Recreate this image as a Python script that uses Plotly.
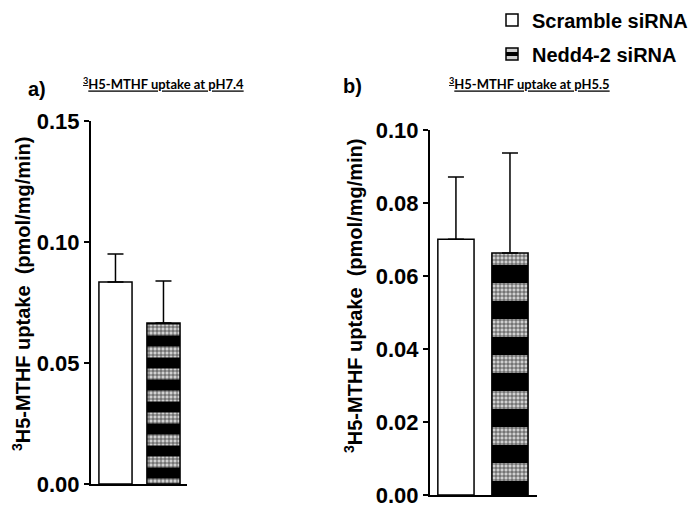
import plotly.graph_objects as go

# ---------------- data ----------------
groups = ["Scramble siRNA", "Nedd4-2 siRNA"]
ph74_mean = [0.0835, 0.0665]
ph74_err = [0.0115, 0.0174]
ph55_mean = [0.0701, 0.0663]
ph55_err = [0.0170, 0.0274]
ph74_ticks = [0.00, 0.05, 0.10, 0.15]
ph55_ticks = [0.00, 0.02, 0.04, 0.06, 0.08, 0.10]
title_a = "<sup>3</sup>H5-MTHF uptake at pH7.4"
title_b = "<sup>3</sup>H5-MTHF uptake at pH5.5"
ytitle = "<sup>3</sup>H5-MTHF uptake\u00a0 (pmol/mg/min)"

FONT = "Liberation Sans, Arial, sans-serif"

def add_panel(fig, means, errs, xa, ya, width, band, show_legend):
    # white bar
    fig.add_trace(go.Bar(
        x=[groups[0]], y=[means[0]], width=width, name=groups[0],
        legendgroup="g0", showlegend=show_legend,
        marker=dict(color="white", line=dict(color="black", width=1.5)),
        error_y=dict(type="data", array=[errs[0]], arrayminus=[0], symmetric=False,
                     color="black", thickness=1.5, width=8),
        xaxis=xa, yaxis=ya))
    # patterned bar (light / dark bands)
    fig.add_trace(go.Bar(
        x=[groups[1]], y=[means[1]], width=width, name=groups[1],
        legendgroup="g1", showlegend=show_legend,
        marker=dict(color="black", line=dict(color="black", width=1.5),
                    pattern=dict(shape="-", fgcolor="#d0d0d0", bgcolor="black",
                                 size=band, solidity=0.5, fillmode="replace")),
        error_y=dict(type="data", array=[errs[1]], arrayminus=[0], symmetric=False,
                     color="black", thickness=1.5, width=8),
        xaxis=xa, yaxis=ya))
    # fine texture overlay
    fig.add_trace(go.Bar(
        x=[groups[1]], y=[means[1]], width=width, showlegend=False, hoverinfo="skip",
        marker=dict(color="rgba(0,0,0,0)", line=dict(width=0),
                    pattern=dict(shape="+", fgcolor="black", size=4,
                                 solidity=0.3, fillmode="overlay", fgopacity=0.8)),
        xaxis=xa, yaxis=ya))

fig = go.Figure()
add_panel(fig, ph74_mean, ph74_err, "x", "y", 0.69, 22, True)
add_panel(fig, ph55_mean, ph55_err, "x2", "y2", 0.67, 36, False)

# the page body has an 8px default margin; work in window pixels
OFF = 8
W, H = 700 - OFF, 508 - OFF
def px(x):
    return (x - OFF) / W
def py(y):
    return 1 - (y - OFF) / H

xcommon = dict(showticklabels=False, ticks="", showline=True, linecolor="black",
               linewidth=2, showgrid=False, zeroline=False, fixedrange=True)
ycommon = dict(showline=True, linecolor="black", linewidth=2, ticks="outside",
               ticklen=5, tickwidth=2, tickcolor="black", showgrid=False,
               zeroline=False, tickformat=".2f", automargin=False,
               tickfont=dict(family=FONT, size=22, color="black", weight="bold"))

fig.update_layout(
    width=W, height=H, autosize=False,
    margin=dict(l=0, r=0, t=0, b=0, autoexpand=False),
    paper_bgcolor="white", plot_bgcolor="white",
    barmode="overlay",
    xaxis=dict(domain=[px(91), px(187)], range=[-0.51, 1.49], anchor="y", **xcommon),
    yaxis=dict(domain=[py(484), py(121)], range=[0, 0.15], tickvals=ph74_ticks,
               anchor="x", **ycommon),
    xaxis2=dict(domain=[px(430), px(537)], range=[-0.48, 1.5], anchor="y2", **xcommon),
    yaxis2=dict(domain=[py(495), py(130)], range=[0, 0.10], tickvals=ph55_ticks,
                anchor="x2", **ycommon),
    legend=dict(x=px(492), y=1.015, xanchor="left", yanchor="top",
                font=dict(family=FONT, size=20, color="black", weight="bold"),
                traceorder="grouped", tracegroupgap=5, bgcolor="rgba(0,0,0,0)"),
    showlegend=True,
)

annots = [
    dict(text="a)", x=px(37), y=py(89), font=dict(size=20)),
    dict(text="b)", x=px(352), y=py(86), font=dict(size=20)),
    dict(text="<u>" + title_a + "</u>", x=px(163), y=py(83),
         font=dict(family="Lato, sans-serif", size=13, weight="bold")),
    dict(text="<u>" + title_b + "</u>", x=px(529), y=py(83),
         font=dict(family="Lato, sans-serif", size=13, weight="bold")),
    dict(text=ytitle, x=px(21), y=py(294), textangle=-90, font=dict(size=20)),
    dict(text=ytitle, x=px(353), y=py(296), textangle=-90, font=dict(size=20)),
]
for a in annots:
    f = dict(family=FONT, color="black", weight="bold")
    f.update(a.pop("font"))
    fig.add_annotation(xref="paper", yref="paper", showarrow=False,
                       xanchor="center", yanchor="middle", font=f, **a)

fig.write_html("out.html")
